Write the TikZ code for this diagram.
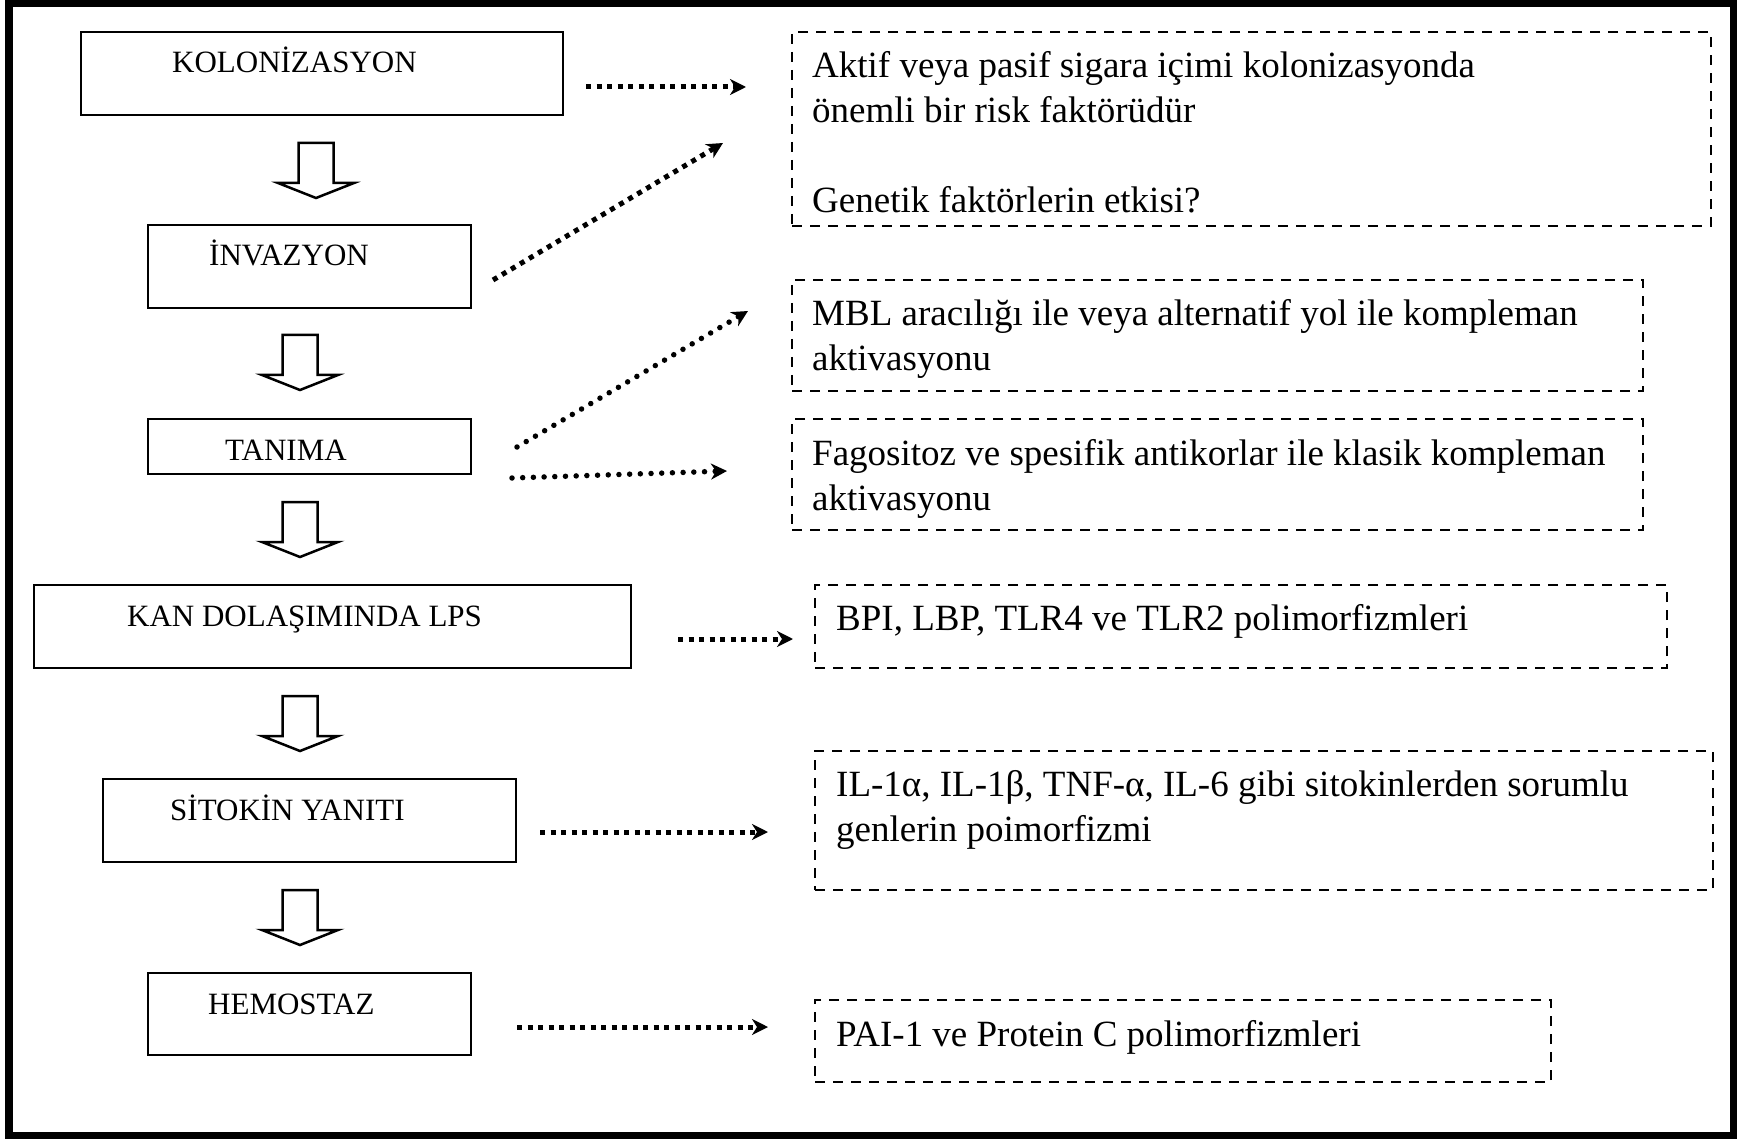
\documentclass[tikz,border=0pt]{standalone}
\usepackage{fontspec}
\setmainfont{Liberation Serif}
\usetikzlibrary{arrows.meta}

\tikzset{
    stagebox/.style={draw, line width=2.5pt, inner sep=0pt},
    notebox/.style={draw, line width=2.5pt, dash pattern=on 10pt off 8pt, inner sep=0pt},
    stagetext/.style={anchor=base west, inner sep=0pt, font=\fontsize{31}{36}\selectfont},
    notetext/.style={anchor=north west, inner sep=0pt, align=left, font=\fontsize{37}{45}\selectfont},
    blockarrow/.style={draw, line width=2.5pt, fill=white, line join=miter},
    sqdots/.style={line width=5pt, dash pattern=on 5pt off 5.5pt,
        -{Stealth[length=16pt, width=16pt, inset=5pt]}},
    rddots/.style={line width=5.5pt, line cap=round, dash pattern=on 0pt off 10.7pt,
        -{Stealth[length=16pt, width=16pt, inset=5pt]}},
}

\begin{document}
\begin{tikzpicture}[x=1pt, y=-1pt]
    \useasboundingbox (0,0) rectangle (1737,1139);
    \draw[line width=7.5pt] (9,3.5) rectangle (1733.5,1135.5);

    % Stages on the left
    \node[stagebox, minimum width=482pt, minimum height=83pt] (kolon)   at (322,73.5)   {};
    \node[stagebox, minimum width=323pt, minimum height=83pt] (invaz)   at (309.5,266.5) {};
    \node[stagebox, minimum width=323pt, minimum height=55pt] (tanima)  at (309.5,446.5) {};
    \node[stagebox, minimum width=597pt, minimum height=83pt] (kan)     at (332.5,626.5) {};
    \node[stagebox, minimum width=413pt, minimum height=83pt] (sitokin) at (309.5,820.5) {};
    \node[stagebox, minimum width=323pt, minimum height=82pt] (hemo)    at (309.5,1014)  {};

    \node[stagetext] (kolonT)   at (172,73)   {KOLONİZASYON};
    \node[stagetext] (invazT)   at (209,266)  {İNVAZYON};
    \node[stagetext] (tanimaT)  at (225,460)  {TANIMA};
    \node[stagetext] (kanT)     at (127,626)  {KAN DOLAŞIMINDA LPS};
    \node[stagetext] (sitokinT) at (170,820)  {SİTOKİN YANITI};
    \node[stagetext] (hemoT)    at (208,1014) {HEMOSTAZ};

    % Hollow arrows between the stages
    \foreach \cx/\ty in {316/143, 300/335, 300/502, 300/696, 300/890}{
        \draw[blockarrow] (\cx-17.5,\ty) -- (\cx+17.5,\ty) -- (\cx+17.5,\ty+40)
            -- (\cx+38,\ty+40) -- (\cx,\ty+55) -- (\cx-38,\ty+40)
            -- (\cx-17.5,\ty+40) -- cycle;
    }

    % Notes on the right
    \node[notebox, minimum width=919pt, minimum height=194pt] (noteA) at (1251.5,129)  {};
    \node[notebox, minimum width=851pt, minimum height=111pt] (noteB) at (1217.5,335.5) {};
    \node[notebox, minimum width=851pt, minimum height=111pt] (noteC) at (1217.5,474.5) {};
    \node[notebox, minimum width=852pt, minimum height=83pt]  (noteD) at (1241,626.5)  {};
    \node[notebox, minimum width=898pt, minimum height=139pt] (noteE) at (1264,820.5)  {};
    \node[notebox, minimum width=736pt, minimum height=82pt]  (noteF) at (1183,1041)   {};

    \node[notetext] (noteAT) at (812,45.5)  {\strut Aktif veya pasif sigara içimi kolonizasyonda\\
        önemli bir risk faktörüdür\\ \\ Genetik faktörlerin etkisi?};
    \node[notetext] (noteBT) at (812,293.5) {\strut MBL aracılığı ile veya alternatif yol ile kompleman\\ aktivasyonu};
    \node[notetext] (noteCT) at (812,433.5) {\strut Fagositoz ve spesifik antikorlar ile klasik kompleman\\ aktivasyonu};
    \node[notetext] (noteDT) at (836,598.5) {\strut BPI, LBP, TLR4 ve TLR2 polimorfizmleri};
    \node[notetext] (noteET) at (836,764.5) {\strut IL-1α, IL-1β, TNF-α, IL-6 gibi sitokinlerden sorumlu\\ genlerin poimorfizmi};
    \node[notetext] (noteFT) at (836,1014.5) {\strut PAI-1 ve Protein C polimorfizmleri};

    % Dotted links
    \coordinate (kolonOut) at (586,87);   \coordinate (noteAIn1) at (746,87);
    \coordinate (invazOut) at (493,280);  \coordinate (noteAIn2) at (723,143);
    \coordinate (tanOut1)  at (517,447);  \coordinate (noteBIn)  at (748,311);
    \coordinate (tanOut2)  at (512,478);  \coordinate (noteCIn)  at (727,471);
    \coordinate (kanOut)   at (678,639);  \coordinate (noteDIn)  at (793,639);
    \coordinate (sitOut)   at (540,832);  \coordinate (noteEIn)  at (768,832);
    \coordinate (hemoOut)  at (517,1027); \coordinate (noteFIn)  at (768,1027);

    \draw[sqdots] (kolonOut) -- (noteAIn1);
    \draw[sqdots] (invazOut) -- (noteAIn2);
    \draw[rddots] (tanOut1) -- (noteBIn);
    \draw[rddots] (tanOut2) -- (noteCIn);
    \draw[sqdots] (kanOut) -- (noteDIn);
    \draw[sqdots] (sitOut) -- (noteEIn);
    \draw[sqdots] (hemoOut) -- (noteFIn);
\end{tikzpicture}
\end{document}
